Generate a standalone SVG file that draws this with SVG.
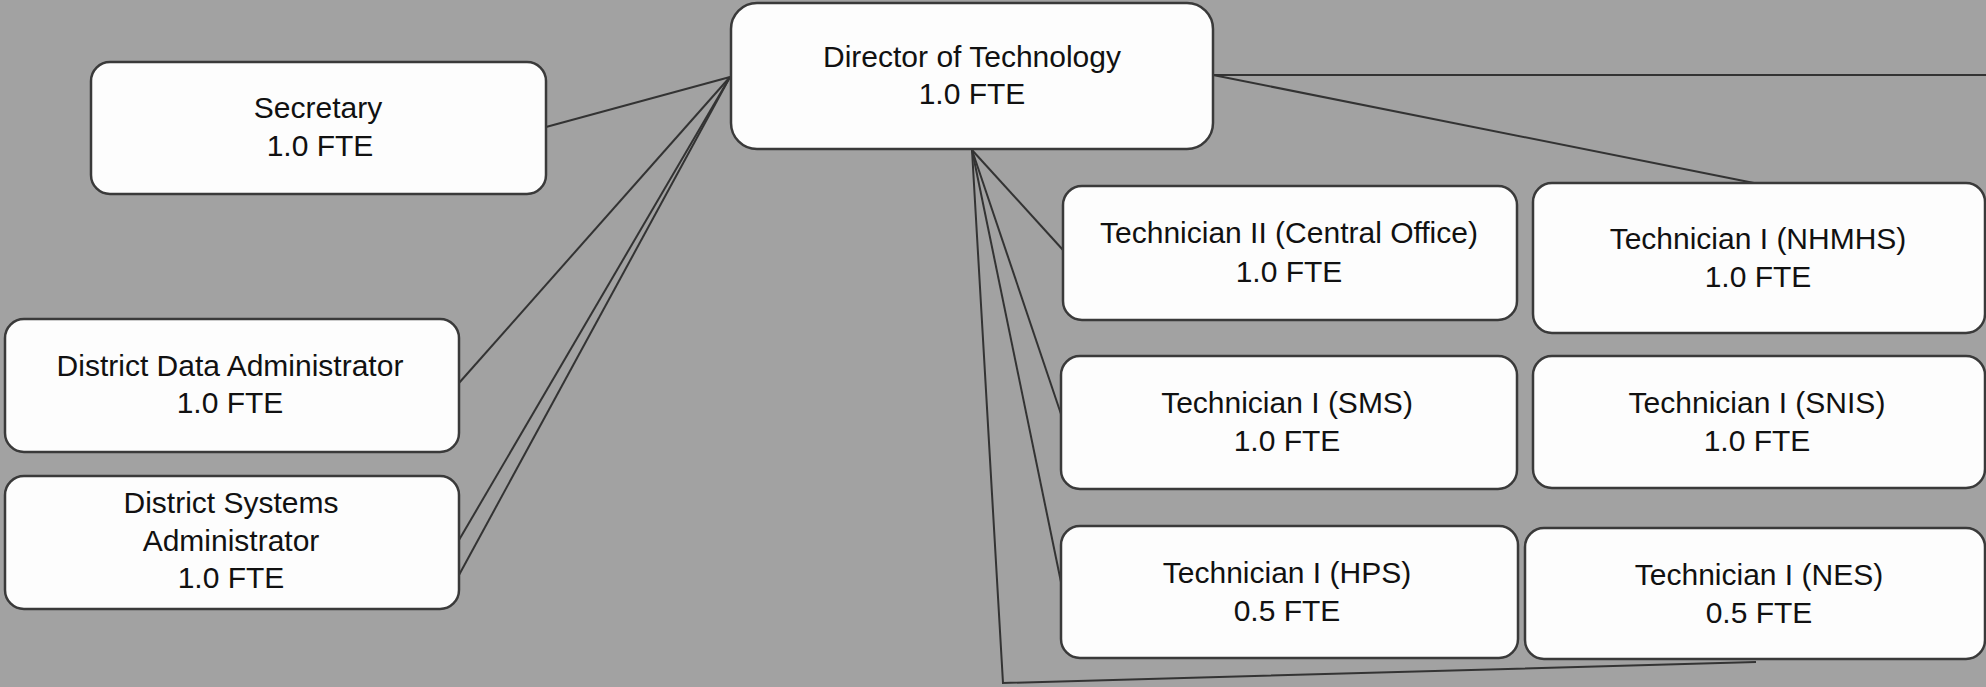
<svg xmlns="http://www.w3.org/2000/svg" width="1986" height="687" viewBox="0 0 1986 687">
<style>
.bg{fill:#a2a2a2}
.box{fill:#fdfdfd;stroke:#3a3a3a;stroke-width:2.5}
.lbl{font-family:"Liberation Sans",Arial,sans-serif;font-size:30px;fill:#111;text-anchor:middle}
.con{fill:none;stroke:#333;stroke-width:2}
</style>
<rect class="bg" x="0" y="0" width="1986" height="687"/>
<g id="connectors">
<line class="con" x1="730" y1="77" x2="546" y2="127"/>
<line class="con" x1="730" y1="77" x2="459" y2="383"/>
<line class="con" x1="730" y1="77" x2="459" y2="540"/>
<line class="con" x1="730" y1="77" x2="459" y2="575"/>
<line class="con" x1="1213" y1="75" x2="1986" y2="75"/>
<line class="con" x1="1213" y1="75" x2="1754" y2="183"/>
<line class="con" x1="972" y1="150" x2="1063" y2="250"/>
<line class="con" x1="972" y1="150" x2="1062" y2="417"/>
<line class="con" x1="972" y1="150" x2="1062" y2="587"/>
<polyline class="con" points="972,150 1003,683 1756,662"/>
</g>
<g id="director">
<rect class="box" x="731" y="3" width="482" height="146" rx="26"/>
<text class="lbl" x="972" y="67">Director of Technology</text>
<text class="lbl" x="972" y="104">1.0 FTE</text>
</g>
<g id="secretary">
<rect class="box" x="91" y="62" width="455" height="132" rx="19"/>
<text class="lbl" x="318" y="118">Secretary</text>
<text class="lbl" x="320" y="156">1.0 FTE</text>
</g>
<g id="data-admin">
<rect class="box" x="5" y="319" width="454" height="133" rx="19"/>
<text class="lbl" x="230" y="376">District Data Administrator</text>
<text class="lbl" x="230" y="413">1.0 FTE</text>
</g>
<g id="systems-admin">
<rect class="box" x="5" y="476" width="454" height="133" rx="19"/>
<text class="lbl" x="231" y="513">District Systems</text>
<text class="lbl" x="231" y="551">Administrator</text>
<text class="lbl" x="231" y="588">1.0 FTE</text>
</g>
<g id="tech-central">
<rect class="box" x="1063" y="186" width="454" height="134" rx="19"/>
<text class="lbl" x="1289" y="243">Technician II (Central Office)</text>
<text class="lbl" x="1289" y="282">1.0 FTE</text>
</g>
<g id="tech-nhmhs">
<rect class="box" x="1533" y="183" width="452" height="150" rx="19"/>
<text class="lbl" x="1758" y="249">Technician I (NHMHS)</text>
<text class="lbl" x="1758" y="287">1.0 FTE</text>
</g>
<g id="tech-sms">
<rect class="box" x="1061" y="356" width="456" height="133" rx="19"/>
<text class="lbl" x="1287" y="413">Technician I (SMS)</text>
<text class="lbl" x="1287" y="451">1.0 FTE</text>
</g>
<g id="tech-snis">
<rect class="box" x="1533" y="356" width="452" height="132" rx="19"/>
<text class="lbl" x="1757" y="413">Technician I (SNIS)</text>
<text class="lbl" x="1757" y="451">1.0 FTE</text>
</g>
<g id="tech-hps">
<rect class="box" x="1061" y="526" width="457" height="132" rx="19"/>
<text class="lbl" x="1287" y="583">Technician I (HPS)</text>
<text class="lbl" x="1287" y="621">0.5 FTE</text>
</g>
<g id="tech-nes">
<rect class="box" x="1525" y="528" width="460" height="131" rx="19"/>
<text class="lbl" x="1759" y="585">Technician I (NES)</text>
<text class="lbl" x="1759" y="623">0.5 FTE</text>
</g>
</svg>
